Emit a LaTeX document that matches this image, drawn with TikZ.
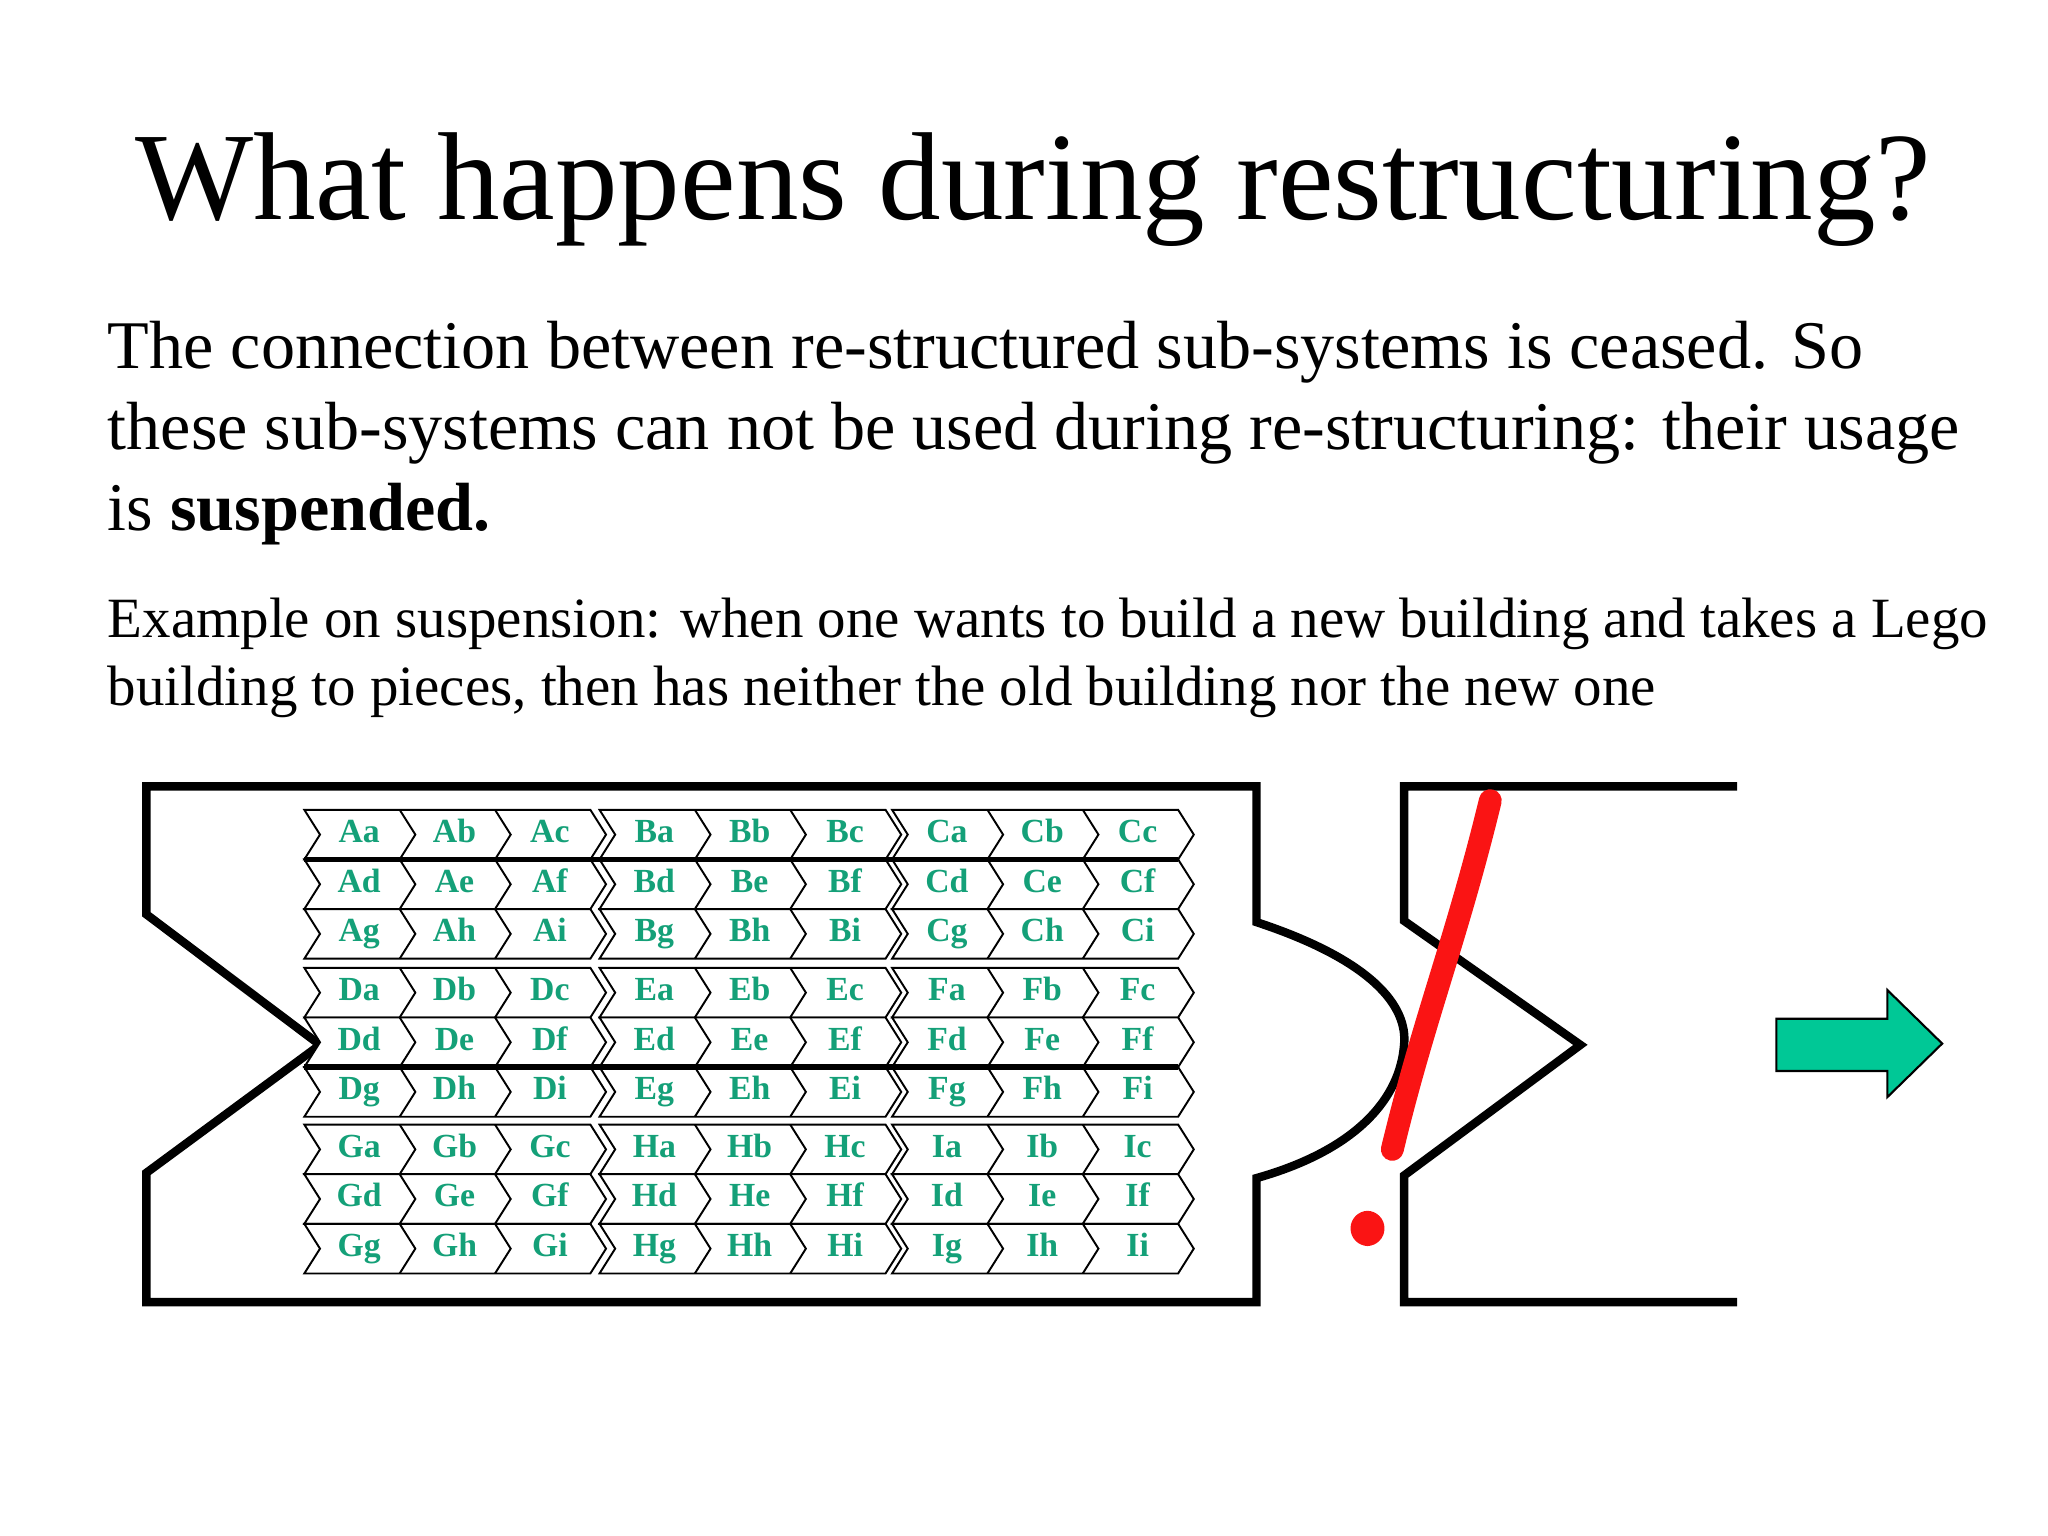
\documentclass[tikz,border=0pt]{standalone}
\usepackage{fontspec}
\setmainfont{Liberation Serif}
\definecolor{lbl}{RGB}{20,160,120}
\definecolor{arr}{RGB}{0,200,150}
\definecolor{redm}{RGB}{250,20,20}
\begin{document}
\begin{tikzpicture}[x=0.01306cm,y=-0.01306cm,
  thickln/.style={line width=2.4pt,line join=miter},
  cellln/.style={line width=0.55pt},
  lab/.style={font=\fontsize{9.6pt}{10pt}\selectfont\bfseries,text=lbl,inner sep=0pt}]
\useasboundingbox (0,0) rectangle (1568,1176);
\node[anchor=base,font=\fontsize{35.6pt}{42pt}\selectfont] (title) at (791,168) {What happens during restructuring?};
\node[anchor=base west,inner sep=0pt,font=\fontsize{19.4pt}{23pt}\selectfont] (l1) at (82,282) {The connection between re-structured sub-systems is ceased. So};
\node[anchor=base west,inner sep=0pt,font=\fontsize{19.4pt}{23pt}\selectfont] (l2) at (82,344) {these sub-systems can not be used during re-structuring: their usage};
\node[anchor=base west,inner sep=0pt,font=\fontsize{19.4pt}{23pt}\selectfont] (l3) at (82,406) {is \textbf{suspended.}};
\node[anchor=base west,inner sep=0pt,font=\fontsize{16.2pt}{19pt}\selectfont] (e1) at (82,488) {Example on suspension: when one wants to build a new building and takes a Lego};
\node[anchor=base west,inner sep=0pt,font=\fontsize{16.2pt}{19pt}\selectfont] (e2) at (82,540) {building to pieces, then has neither the old building nor the new one};
% left outer shape
\draw[thickln] (112,602) -- (962,602) -- (962,706)
  .. controls (1050,735) and (1078,770) .. (1075,800)
  .. controls (1072,840) and (1040,880) .. (962,902)
  -- (962,997) -- (112,997) -- (112,898) -- (245,800) -- (112,700) -- cycle;
% right shape
\draw[thickln] (1330,602) -- (1075,602) -- (1075,705) -- (1210,800) -- (1075,900) -- (1075,997) -- (1330,997);
% grid
\foreach \bi/\by in {0/620,1/741,2/861}{
 \foreach \gi/\gx in {0/233,1/459,2/683}{
  \foreach \r in {0,1,2}{
   \pgfmathsetmacro\t{\by+\r*38}
   \pgfmathsetmacro\m{\by+\r*38+19}
   \pgfmathsetmacro\b{\by+\r*38+38}
   \draw[cellln,fill=white] (\gx,\t) -- (\gx+219,\t) -- (\gx+231,\m) -- (\gx+219,\b) -- (\gx,\b) -- (\gx+12,\m) -- cycle;
   \foreach \c in {0,1,2}{
    \pgfmathsetmacro\cx{\gx+\c*73}
    \ifnum\c>0 \draw[cellln] (\cx,\t) -- (\cx+12,\m) -- (\cx,\b); \fi
    \pgfmathtruncatemacro\gidx{\bi*3+\gi}
    \pgfmathtruncatemacro\sidx{\r*3+\c}
    \pgfmathsetmacro\G{{"A","B","C","D","E","F","G","H","I"}[\gidx]}
    \pgfmathsetmacro\S{{"a","b","c","d","e","f","g","h","i"}[\sidx]}
    \node[lab,anchor=base] (c\G\S) at (\cx+42,\m+6) {\G\S};
   }
  }
 }
}
\draw[line width=1.6pt] (233,658) -- (683+219,658);
\draw[line width=1.6pt] (233,817) -- (683+219,817);
% red mark
\draw[redm,line width=6.5pt,line cap=round] (1141,613) .. controls (1115,720) and (1090,780) .. (1066,880);
\fill[redm,rounded corners=5pt] (1034,927) rectangle (1060,954);
% arrow
\draw[fill=arr,line width=0.6pt,line join=miter] (1360,780) coordinate (a1) -- (1445,780) -- (1445,758) -- (1487,799) -- (1445,840) -- (1445,820) -- (1360,820) -- cycle;
\end{tikzpicture}
\end{document}
